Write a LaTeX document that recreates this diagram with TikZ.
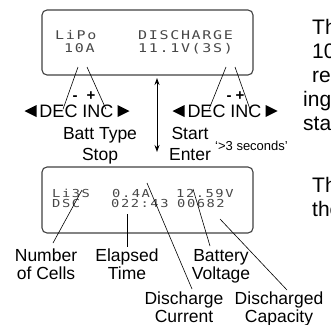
\documentclass[tikz,border=0pt]{standalone}
\usepackage{fontspec}
\setmainfont{Liberation Sans}
\newfontfamily\lcdfont[FakeStretch=1.25,LetterSpace=14]{DejaVu Sans Mono}
\usetikzlibrary{positioning,arrows.meta,calc}
\tikzset{
  lcdbox/.style={draw=black!75,line width=1.1pt,rounded corners=5pt,inner sep=0pt},
  lcdtext/.style={font=\lcdfont\fontsize{12}{13}\selectfont,text=black!72,inner sep=0pt,anchor=base west},
  lcdsmall/.style={lcdtext,font=\lcdfont\fontsize{11}{12}\selectfont},
  keytext/.style={font=\fontsize{18}{20}\selectfont,inner sep=0pt,anchor=base},
  signtext/.style={font=\bfseries\fontsize{15}{16}\selectfont,inner sep=0pt,anchor=base},
  cmdtext/.style={font=\fontsize{17.5}{21}\selectfont,inner sep=0pt,align=center,anchor=north},
  tagtext/.style={font=\fontsize{17.5}{18}\selectfont,inner sep=0pt,align=center,anchor=north},
  sidetext/.style={font=\fontsize{21}{24}\selectfont,inner sep=0pt,anchor=base west},
  pointer/.style={draw=black,line width=0.6pt},
  modeflow/.style={{Stealth[length=7pt,width=5pt]}-{Stealth[length=7pt,width=5pt]},line width=0.9pt}
}

\begin{document}
\begin{tikzpicture}[x=1pt,y=-1pt]
  \useasboundingbox (0,0) rectangle (331,324);
  \clip (0,0) rectangle (331,324);
  % setup screen
  \node[lcdbox,minimum width=211pt,minimum height=65pt] (setup) at (147.5,42.5) {};
  \node[lcdtext] (type) at (55,39) {LiPo};
  \node[lcdtext] (amps) at (64,52) {10A};
  \node[lcdtext] (mode) at (138,39) {DISCHARGE};
  \node[lcdtext] (volts) at (138,52) {11.1V(3S)};
  % keys under the setup screen
  \foreach \k/\cx in {keysL/76.5,keysR/224.5}{
    \node[keytext] (\k) at (\cx,117) {DEC INC};
    \fill (\cx-52,111) -- (\cx-40,105) -- (\cx-40,117) -- cycle;
    \fill (\cx+53,111) -- (\cx+41,105) -- (\cx+41,117) -- cycle;
  }
  \node[signtext] (decL) at (75,100) {-};
  \node[signtext] (incL) at (91,100) {+};
  \node[signtext] (decR) at (229,100) {-};
  \node[signtext] (incR) at (240,100) {+};
  \coordinate (pTypeA) at (78,67);
  \coordinate (pTypeB) at (87,67);
  \coordinate (pModeA) at (226,67);
  \coordinate (pModeB) at (235,67);
  \draw[pointer] (pTypeA) -- ([shift={(-13.5,5)}]keysL.north);
  \draw[pointer] (pTypeB) -- ([shift={(29.5,5)}]keysL.north);
  \draw[pointer] (pModeA) -- ([shift={(-15.5,5)}]keysR.north);
  \draw[pointer] (pModeB) -- ([shift={(25.5,5)}]keysR.north);
  % commands
  \node[cmdtext] (battstop) at (100,127) {Batt Type\\Stop};
  \node[cmdtext] (startenter) at (190,127) {Start\\Enter};
  \node[font=\fontsize{13}{14}\selectfont,inner sep=0pt,anchor=base west] (hold) at (215,150) {‘>3 seconds’};
  \coordinate (modeTop) at (157,78);
  \coordinate (modeBot) at (157,152);
  \draw[modeflow] (modeTop) -- (modeBot);
  % running screen
  \node[lcdbox,minimum width=211pt,minimum height=66pt] (run) at (147.5,200) {};
  \node[lcdsmall] (cells) at (52,197) {Li3S};
  \node[lcdsmall] (current) at (112,197) {0.4A};
  \node[lcdsmall] (voltage) at (176,197) {12.59V};
  \node[lcdsmall] (dsc) at (52,207) {DSC};
  \node[lcdsmall] (elapsed) at (111,207) {022:43};
  \node[lcdsmall] (capacity) at (177,207) {00682};
  % what the fields mean
  \node[tagtext] (tagCells) at (46,249) {Number\\of Cells};
  \node[tagtext] (tagTime) at (127,249) {Elapsed\\Time};
  \node[tagtext] (tagVolt) at (221,249) {Battery\\Voltage};
  \node[tagtext] (tagCurr) at (184,292) {Discharge\\Current};
  \node[tagtext] (tagCap) at (279,292) {Discharged\\Capacity};
  \coordinate (pCells) at (82,190);
  \coordinate (pTime) at (127,214);
  \coordinate (pCurr) at (147,183);
  \coordinate (pVolt) at (193,189);
  \coordinate (pCap) at (220,219);
  \draw[pointer] (pCells) -- ([shift={(7,-6)}]tagCells.north);
  \draw[pointer] (pTime) -- ([shift={(0,-2)}]tagTime.north);
  \draw[pointer] (pCurr) -- ([shift={(8,-3)}]tagCurr.north);
  \draw[pointer] (pVolt) -- ([shift={(-11,-3)}]tagVolt.north);
  \draw[pointer] (pCap) -- ([shift={(8,-2)}]tagCap.north);
  % running text beside the screens
  \node[sidetext] (s1) at (312,34) {Th};
  \node[sidetext] (s2) at (312,58) {10};
  \node[sidetext] (s3) at (312,82) {re};
  \node[sidetext] (s4) at (303,106) {ing};
  \node[sidetext] (s5) at (303,130) {sta};
  \node[sidetext] (s6) at (312,192) {Th};
  \node[sidetext] (s7) at (312,216) {the};
\end{tikzpicture}
\end{document}
